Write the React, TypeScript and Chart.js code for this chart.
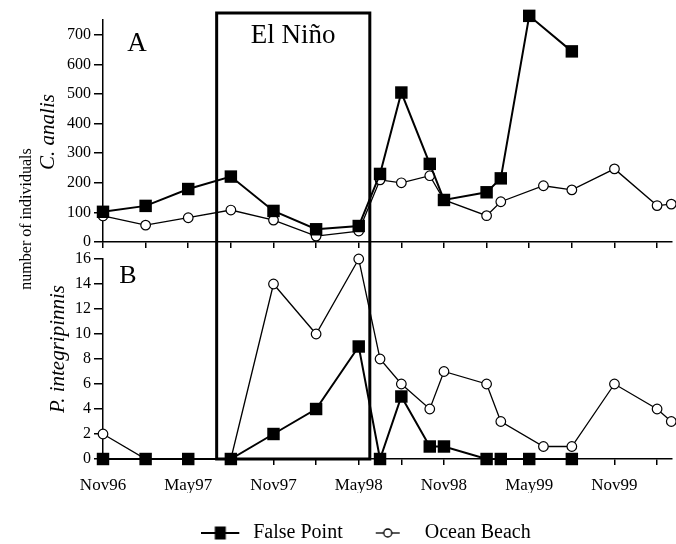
import React, { useEffect, useRef } from 'react';
import { Chart, registerables } from 'chart.js';

Chart.register(...registerables);

// ---------------- data ----------------
// x = months since Nov 1996
const xTickLabels = ['Nov96', 'May97', 'Nov97', 'May98', 'Nov98', 'May99', 'Nov99'];

const fpMonths = [0, 3, 6, 9, 12, 15, 18, 19.5, 21, 23, 24, 27, 28, 30, 33];
const fpAnalis = [102, 122, 179, 221, 105, 43, 54, 230, 505, 264, 142, 168, 215, 764, 644];
const fpInteg = [0, 0, 0, 0, 2, 4, 9, 0, 5, 1, 1, 0, 0, 0, 0];

const obMonths = [0, 3, 6, 9, 12, 15, 18, 19.5, 21, 23, 24, 27, 28, 31, 33, 36, 39, 40];
const obAnalis = [88, 57, 82, 108, 74, 20, 37, 210, 200, 224, 142, 89, 136, 190, 176, 247, 123, 128];
const obInteg = [2, 0, 0, 0, 14, 10, 16, 8, 6, 4, 7, 6, 3, 1, 1, 6, 4, 3];

const elNinoStart = 8;
const elNinoEnd = 18.78;

const seriesNames = ['False Point', 'Ocean Beach'];

// ---------------- style ----------------
const SERIF = '"Liberation Serif", "Times New Roman", Times, serif';
const W = 676;
const H = 544;

Chart.defaults.font.family = SERIF;
Chart.defaults.color = '#000';

const pts = (xs: number[], ys: number[]) => xs.map((x, i) => ({ x, y: ys[i] }));

function makeIcon(kind: 'fp' | 'ob'): HTMLCanvasElement {
  const c = document.createElement('canvas');
  c.width = 42;
  c.height = 16;
  const g = c.getContext('2d')!;
  g.strokeStyle = '#000';
  g.fillStyle = '#000';
  if (kind === 'fp') {
    g.lineWidth = 2;
    g.beginPath();
    g.moveTo(0, 8);
    g.lineTo(38, 8);
    g.stroke();
    g.fillRect(19 - 5.5, 8 - 6.5, 11, 13);
  } else {
    g.lineWidth = 1.3;
    g.beginPath();
    g.moveTo(3, 8);
    g.lineTo(27, 8);
    g.stroke();
    g.beginPath();
    g.arc(15, 8, 4, 0, Math.PI * 2);
    g.fillStyle = '#fff';
    g.fill();
    g.stroke();
  }
  return c;
}

function datasets(fpY: number[], obY: number[]) {
  return [
    {
      label: seriesNames[0],
      data: pts(fpMonths, fpY),
      borderColor: '#000',
      backgroundColor: '#000',
      borderWidth: 2,
      pointStyle: 'rect' as const,
      pointRadius: 8.8,
      pointBackgroundColor: '#000',
      pointBorderColor: '#000',
      pointBorderWidth: 0,
      tension: 0,
      clip: false as any,
    },
    {
      label: seriesNames[1],
      data: pts(obMonths, obY),
      borderColor: '#000',
      backgroundColor: '#fff',
      borderWidth: 1.3,
      pointStyle: 'circle' as const,
      pointRadius: 4.8,
      pointBackgroundColor: '#fff',
      pointBorderColor: '#000',
      pointBorderWidth: 1.2,
      tension: 0,
      clip: false as any,
    },
  ];
}

const axisBorder = { display: true, color: '#000', width: 1.5 };
const gridBase = { drawOnChartArea: false, drawTicks: true, color: '#000', lineWidth: 1.5 };

function xScale(showLabels: boolean, height: number) {
  return {
    type: 'linear' as const,
    min: 0,
    max: 40.05,
    afterFit: (s: any) => {
      s.height = height;
    },
    border: axisBorder,
    grid: { ...gridBase, tickLength: 6 },
    ticks: {
      display: showLabels,
      stepSize: 3,
      includeBounds: false,
      maxTicksLimit: 100,
      autoSkip: false,
      maxRotation: 0,
      minRotation: 0,
      padding: 10,
      font: { size: 17, family: SERIF },
      color: '#000',
      callback: (v: any) => {
        const m = Math.round(Number(v));
        return m % 6 === 0 && xTickLabels[m / 6] !== undefined ? xTickLabels[m / 6] : '';
      },
    },
  };
}

function yScale(max: number, step: number) {
  return {
    min: 0,
    max,
    afterFit: (s: any) => {
      s.width = 43;
    },
    border: axisBorder,
    grid: { ...gridBase, tickLength: 9 },
    ticks: {
      stepSize: step,
      includeBounds: false,
      maxTicksLimit: 100,
      padding: 3,
      font: { size: 16, family: SERIF },
      color: '#000',
    },
  };
}

function text(ctx: CanvasRenderingContext2D, s: string, x: number, y: number, font: string, rot = 0, baseline: CanvasTextBaseline = 'middle') {
  ctx.save();
  ctx.translate(x, y);
  ctx.rotate(rot);
  ctx.font = font;
  ctx.fillStyle = '#000';
  ctx.textAlign = 'center';
  ctx.textBaseline = baseline;
  ctx.fillText(s, 0, 0);
  ctx.restore();
}

const topDecor = {
  id: 'topDecor',
  afterDraw(chart: any) {
    const ctx = chart.ctx as CanvasRenderingContext2D;
    text(ctx, 'number of individuals', 27, 219, `16px ${SERIF}`, -Math.PI / 2);
    text(ctx, 'C. analis', 48, 132, `italic 21px ${SERIF}`, -Math.PI / 2);
    text(ctx, 'A', 137, 44, `27px ${SERIF}`);
  },
};

const bottomDecor = {
  id: 'bottomDecor',
  afterDraw(chart: any) {
    const ctx = chart.ctx as CanvasRenderingContext2D;
    const x = chart.scales.x;
    const y = chart.scales.y;
    text(ctx, 'P. integripinnis', 58, 349, `italic 21px ${SERIF}`, -Math.PI / 2);
    text(ctx, 'B', 128, 276, `26px ${SERIF}`);
    const x0 = x.getPixelForValue(elNinoStart);
    const x1 = x.getPixelForValue(elNinoEnd);
    const yb = y.getPixelForValue(0);
    ctx.save();
    ctx.strokeStyle = '#000';
    ctx.lineWidth = 3;
    ctx.strokeRect(x0, 13, x1 - x0, yb - 13);
    ctx.restore();
    text(ctx, 'El Niño', (x0 + x1) / 2, 43, `27px ${SERIF}`, 0, 'alphabetic');
  },
};

export default function App() {
  const topRef = useRef<HTMLCanvasElement>(null);
  const botRef = useRef<HTMLCanvasElement>(null);

  useEffect(() => {
    const fpIcon = makeIcon('fp');
    const obIcon = makeIcon('ob');

    const top = new Chart(topRef.current!, {
      type: 'line',
      data: { datasets: datasets(fpAnalis, obAnalis) as any },
      options: {
        animation: false,
        responsive: false,
        events: [],
        layout: { autoPadding: false, padding: { left: 60, right: 4, top: 20, bottom: 292 } },
        plugins: { legend: { display: false }, tooltip: { enabled: false } },
        scales: { x: xScale(false, 10) as any, y: yScale(750, 100) as any },
      },
      plugins: [topDecor],
    });

    const bottom = new Chart(botRef.current!, {
      type: 'line',
      data: { datasets: datasets(fpInteg, obInteg) as any },
      options: {
        animation: false,
        responsive: false,
        events: [],
        layout: { autoPadding: false, padding: { left: 60, right: 4, top: 259, bottom: -9 } },
        plugins: {
          tooltip: { enabled: false },
          legend: {
            display: true,
            position: 'bottom',
            labels: {
              usePointStyle: true,
              pointStyleWidth: 42,
              padding: 30,
              color: '#000',
              font: { size: 20, family: SERIF },
              generateLabels: () => [
                { text: seriesNames[0], pointStyle: fpIcon as any, fillStyle: '#000', strokeStyle: '#000', lineWidth: 0, hidden: false, datasetIndex: 0, fontColor: '#000' },
                { text: seriesNames[1], pointStyle: obIcon as any, fillStyle: '#fff', strokeStyle: '#000', lineWidth: 0, hidden: false, datasetIndex: 1, fontColor: '#000' },
              ],
            },
          },
        },
        scales: { x: xScale(true, 34) as any, y: yScale(16, 2) as any },
      },
      plugins: [bottomDecor],
    });

    return () => {
      top.destroy();
      bottom.destroy();
    };
  }, []);

  const cs: React.CSSProperties = { position: 'absolute', left: 0, top: 0, width: W, height: H };
  return (
    <div style={{ position: 'absolute', left: 0, top: 0, width: W, height: H, overflow: 'hidden', background: '#fff' }}>
      <canvas ref={topRef} width={W} height={H} style={cs} />
      <canvas ref={botRef} width={W} height={H} style={cs} />
    </div>
  );
}
